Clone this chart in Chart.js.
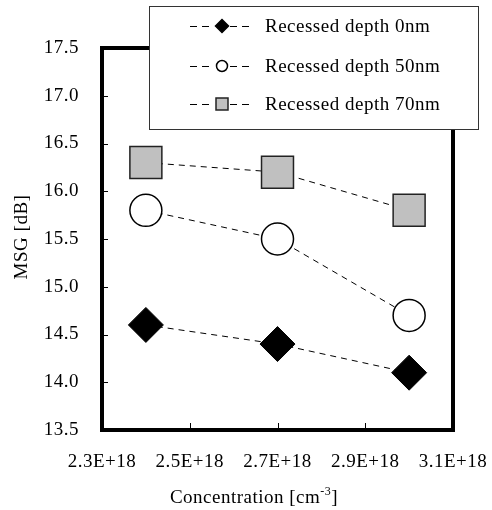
<!DOCTYPE html>
<html>
<head>
<meta charset="utf-8">
<script src="https://cdn.jsdelivr.net/npm/chart.js@4"></script>
<style>
  html, body { margin: 0; padding: 0; background: #fff; }
  #c { display: block; }
</style>
</head>
<body>
<canvas id="c" width="492" height="510"></canvas>
<script>
// concentration (cm^-3) and MSG (dB)
const concentration = [2.4e18, 2.7e18, 3.0e18];
const msg0nm = [14.6, 14.4, 14.1];
const msg50nm = [15.8, 15.5, 14.7];
const msg70nm = [16.3, 16.2, 15.8];
const seriesLabels = ['Recessed depth 0nm', 'Recessed depth 50nm', 'Recessed depth 70nm'];
const yTitle = 'MSG [dB]';

const FONT = "'Liberation Serif', 'Times New Roman', serif";
const SPACING = '0.5px';
Chart.defaults.font.family = FONT;
Chart.defaults.font.size = 19;
Chart.defaults.color = '#000';

const pts = (ys) => concentration.map((x, i) => ({ x, y: ys[i] }));

const styles = [
  { pointStyle: 'rectRot', radius: 17.5, bg: '#000', border: '#000', bw: 1 },
  { pointStyle: 'circle', radius: 16, bg: '#fff', border: '#000', bw: 1.5 },
  { pointStyle: 'rect', radius: 22.6, bg: '#c0c0c0', border: '#222', bw: 1.5 }
];

function makeSet(label, ys, s) {
  return {
    label,
    data: pts(ys),
    showLine: true,
    borderColor: '#000',
    borderWidth: 1,
    borderDash: [6, 5],
    pointStyle: s.pointStyle,
    pointRadius: s.radius,
    pointBackgroundColor: s.bg,
    pointBorderColor: s.border,
    pointBorderWidth: s.bw,
    clip: false
  };
}

function drawMarker(ctx, style, x, y, r) {
  ctx.beginPath();
  if (style === 'rectRot') {
    ctx.moveTo(x - r, y); ctx.lineTo(x, y - r); ctx.lineTo(x + r, y); ctx.lineTo(x, y + r); ctx.closePath();
  } else if (style === 'circle') {
    ctx.arc(x, y, r, 0, Math.PI * 2);
  } else {
    ctx.rect(x - r, y - r, 2 * r, 2 * r);
  }
}

const framePlugin = {
  id: 'frame',
  beforeDraw(chart) {
    chart.ctx.letterSpacing = SPACING;
  },
  beforeDatasetsDraw(chart) {
    const { ctx, chartArea: a, scales } = chart;
    ctx.save();
    ctx.strokeStyle = '#000';
    ctx.lineWidth = 1;
    scales.y.ticks.forEach(t => {
      const py = Math.round(scales.y.getPixelForValue(t.value)) + 0.5;
      ctx.beginPath(); ctx.moveTo(a.left, py); ctx.lineTo(a.left + 6, py); ctx.stroke();
    });
    scales.x.ticks.forEach(t => {
      const px = Math.round(scales.x.getPixelForValue(t.value)) + 0.5;
      ctx.beginPath(); ctx.moveTo(px, a.bottom); ctx.lineTo(px, a.bottom - 7); ctx.stroke();
    });
    ctx.lineWidth = 4;
    ctx.strokeRect(a.left, a.top, a.right - a.left, a.bottom - a.top);
    ctx.restore();
  },
  afterDraw(chart) {
    const ctx = chart.ctx;
    ctx.save();
    ctx.letterSpacing = SPACING;
    // legend box
    ctx.fillStyle = '#fff';
    ctx.fillRect(149, 6, 329, 123);
    ctx.strokeStyle = '#333';
    ctx.lineWidth = 1;
    ctx.strokeRect(149.5, 6.5, 329, 123);
    const rows = [26, 66, 104];
    const legendR = [6.5, 5.5, 6];
    chart.data.datasets.forEach((ds, i) => {
      const y = rows[i];
      ctx.strokeStyle = '#000';
      ctx.lineWidth = 1;
      ctx.setLineDash([7, 5]);
      ctx.beginPath(); ctx.moveTo(190, y + 0.5); ctx.lineTo(214, y + 0.5); ctx.stroke();
      ctx.beginPath(); ctx.moveTo(230, y + 0.5); ctx.lineTo(254, y + 0.5); ctx.stroke();
      ctx.setLineDash([]);
      drawMarker(ctx, ds.pointStyle, 222, y, legendR[i]);
      ctx.fillStyle = ds.pointBackgroundColor;
      ctx.fill();
      ctx.strokeStyle = ds.pointBorderColor;
      ctx.lineWidth = 1.5;
      ctx.stroke();
      ctx.fillStyle = '#000';
      ctx.font = '19px ' + FONT;
      ctx.textAlign = 'left';
      ctx.textBaseline = 'middle';
      ctx.fillText(seriesLabels[i], 265, y + 1);
    });
    // x title with superscript
    ctx.fillStyle = '#000';
    ctx.textBaseline = 'alphabetic';
    ctx.textAlign = 'left';
    const main = 'Concentration [cm';
    ctx.font = '19px ' + FONT;
    const w1 = ctx.measureText(main).width;
    ctx.font = '12px ' + FONT;
    const w2 = ctx.measureText('-3').width;
    ctx.font = '19px ' + FONT;
    const w3 = ctx.measureText(']').width;
    const x0 = 254 - (w1 + w2 + w3) / 2;
    const by = 503;
    ctx.fillText(main, x0, by);
    ctx.font = '12px ' + FONT;
    ctx.fillText('-3', x0 + w1, by - 8);
    ctx.font = '19px ' + FONT;
    ctx.fillText(']', x0 + w1 + w2, by);
    // y title
    ctx.translate(22, 237);
    ctx.rotate(-Math.PI / 2);
    ctx.textAlign = 'center';
    ctx.textBaseline = 'middle';
    ctx.fillText(yTitle, 0, 0);
    ctx.restore();
  }
};

new Chart(document.getElementById('c'), {
  type: 'scatter',
  data: {
    datasets: [
      makeSet(seriesLabels[0], msg0nm, styles[0]),
      makeSet(seriesLabels[1], msg50nm, styles[1]),
      makeSet(seriesLabels[2], msg70nm, styles[2])
    ]
  },
  options: {
    responsive: false,
    animation: false,
    events: [],
    layout: { padding: { top: 48, right: 39, bottom: 0, left: 0 } },
    plugins: { legend: { display: false }, tooltip: { enabled: false } },
    scales: {
      x: {
        type: 'linear',
        min: 2.3e18,
        max: 3.1e18,
        afterFit: (s) => { s.height = 80; s.paddingLeft = 0; s.paddingRight = 0; },
        grid: { display: false, drawTicks: false },
        border: { display: false },
        ticks: {
          stepSize: 0.2e18,
          padding: 21,
          maxRotation: 0,
          callback: (v) => (v / 1e18).toFixed(1) + 'E+18'
        }
      },
      y: {
        min: 13.5,
        max: 17.5,
        afterFit: (s) => { s.width = 102; s.paddingTop = 0; s.paddingBottom = 0; },
        grid: { display: false, drawTicks: false },
        border: { display: false },
        ticks: {
          stepSize: 0.5,
          padding: 23,
          callback: (v) => v.toFixed(1)
        }
      }
    }
  },
  plugins: [framePlugin]
});
</script>
</body>
</html>
